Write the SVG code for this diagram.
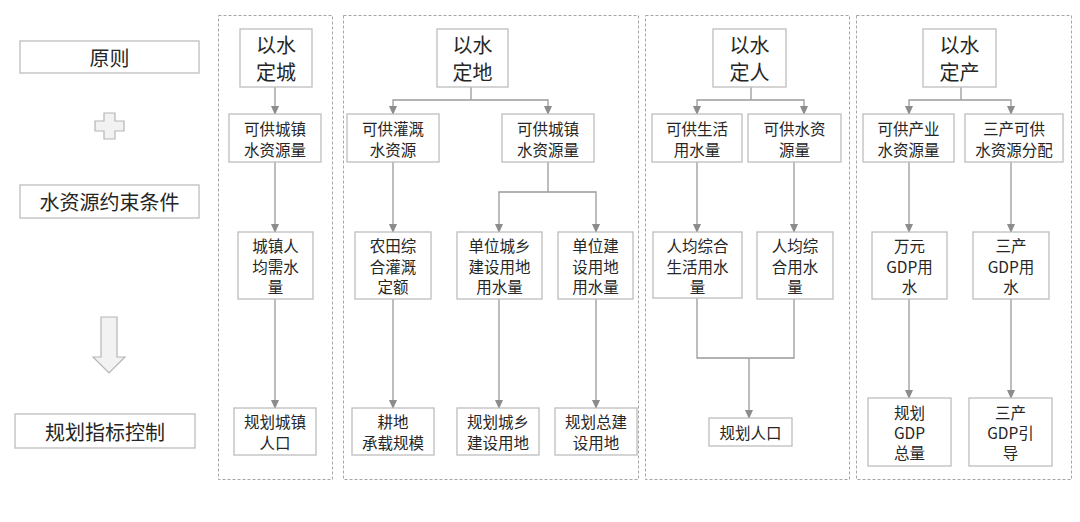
<svg xmlns="http://www.w3.org/2000/svg" width="1080" height="522" viewBox="0 0 1080 522">
<defs>
<style>
text{font-family:"Microsoft YaHei","Noto Sans CJK SC","Noto Sans",sans-serif;fill:#262626;text-anchor:middle;dominant-baseline:central}
.box{fill:#fff;stroke:#bdbdbd;stroke-width:1.3}
.grp{fill:none;stroke:#a6a6a6;stroke-width:1;stroke-dasharray:3 2}
.t{font-size:20px}
.n{font-size:15.5px}
.l{font-size:20px}
.c{fill:none;stroke:#9a9a9a;stroke-width:1.3}
.a{marker-end:url(#ah)}
.icon{fill:#f2f2f2;stroke:#b5b5b5;stroke-width:1.2}
</style>
<marker id="ah" markerUnits="userSpaceOnUse" markerWidth="9" markerHeight="8" refX="8" refY="4" orient="auto">
<path d="M0,0 L9,4 L0,8 Z" fill="#8c8c8c"/>
</marker>
</defs>
<rect width="1080" height="522" fill="#fff"/>

<g id="legend">
<g id="principle"><rect class="box" x="20" y="41" width="179" height="32"/><text class="l" x="109.5" y="57">原则</text></g>
<path id="plus" class="icon" d="M104,113 H115 V121 H124 V131 H115 V139 H104 V131 H95 V121 H104 Z"/>
<g id="constraint"><rect class="box" x="20" y="185" width="179" height="33"/><text class="l" x="109.5" y="201.5">水资源约束条件</text></g>
<path id="downarrow" class="icon" d="M101,317 H117 V357 H125 L109,373 L93,357 H101 Z"/>
<g id="control"><rect class="box" x="15" y="414" width="180" height="34"/><text class="l" x="105" y="431">规划指标控制</text></g>
</g>

<g id="groups">
<rect class="grp" x="218.5" y="15.5" width="114" height="464"/>
<rect class="grp" x="343.5" y="15.5" width="295" height="464"/>
<rect class="grp" x="645.5" y="15.5" width="204" height="464"/>
<rect class="grp" x="856.5" y="15.5" width="215" height="464"/>
</g>

<g id="connectors">
<line class="c a" x1="275" y1="87" x2="275" y2="114"/>
<line class="c a" x1="275" y1="162" x2="275" y2="232"/>
<line class="c a" x1="275" y1="299" x2="275" y2="408"/>

<polyline class="c" points="471,87 471,100"/>
<polyline class="c a" points="471,100 393,100 393,114"/>
<polyline class="c a" points="471,100 548,100 548,114"/>
<line class="c a" x1="393" y1="162" x2="393" y2="232"/>
<polyline class="c" points="548,162 548,192"/>
<polyline class="c a" points="548,192 499,192 499,232"/>
<polyline class="c a" points="548,192 596,192 596,232"/>
<line class="c a" x1="393" y1="299" x2="393" y2="408"/>
<line class="c a" x1="499" y1="299" x2="499" y2="408"/>
<line class="c a" x1="596" y1="299" x2="596" y2="408"/>

<polyline class="c" points="751,87 751,100"/>
<polyline class="c a" points="751,100 697,100 697,114"/>
<polyline class="c a" points="751,100 804,100 804,114"/>
<line class="c a" x1="697" y1="162" x2="697" y2="232"/>
<line class="c a" x1="794" y1="162" x2="794" y2="232"/>
<polyline class="c" points="697,298 697,358 794,358 794,299"/>
<line class="c a" x1="749" y1="358" x2="749" y2="418"/>

<polyline class="c" points="961,87 961,100"/>
<polyline class="c a" points="961,100 909,100 909,114"/>
<polyline class="c a" points="961,100 1011,100 1011,114"/>
<line class="c a" x1="909" y1="162" x2="909" y2="232"/>
<line class="c a" x1="1011" y1="162" x2="1011" y2="232"/>
<line class="c a" x1="909" y1="299" x2="909" y2="398"/>
<line class="c a" x1="1011" y1="299" x2="1011" y2="398"/>
</g>

<g id="n-city"><rect class="box" x="240" y="29" width="72" height="58"/><text class="t" x="276" y="44.5">以水</text><text class="t" x="276" y="71.5">定城</text></g>
<g id="n-city-supply"><rect class="box" x="229" y="114" width="92" height="48"/><text class="n" x="275" y="128">可供城镇</text><text class="n" x="275" y="149">水资源量</text></g>
<g id="n-city-percap"><rect class="box" x="238" y="232" width="75" height="67"/><text class="n" x="275.5" y="245">城镇人</text><text class="n" x="275.5" y="265.5">均需水</text><text class="n" x="275.5" y="286">量</text></g>
<g id="n-city-pop"><rect class="box" x="234" y="408" width="82" height="47"/><text class="n" x="275" y="421">规划城镇</text><text class="n" x="275" y="442">人口</text></g>

<g id="n-land"><rect class="box" x="437" y="29" width="71" height="58"/><text class="t" x="472.5" y="44.5">以水</text><text class="t" x="472.5" y="71.5">定地</text></g>
<g id="n-irr-supply"><rect class="box" x="347" y="114" width="92" height="48"/><text class="n" x="393" y="128">可供灌溉</text><text class="n" x="393" y="149">水资源</text></g>
<g id="n-land-city-supply"><rect class="box" x="502" y="114" width="92" height="48"/><text class="n" x="548" y="128">可供城镇</text><text class="n" x="548" y="149">水资源量</text></g>
<g id="n-irr-quota"><rect class="box" x="355" y="232" width="76" height="67"/><text class="n" x="393" y="245">农田综</text><text class="n" x="393" y="265.5">合灌溉</text><text class="n" x="393" y="286">定额</text></g>
<g id="n-urb-rural-use"><rect class="box" x="457" y="232" width="85" height="67"/><text class="n" x="499.5" y="245">单位城乡</text><text class="n" x="499.5" y="265.5">建设用地</text><text class="n" x="499.5" y="286">用水量</text></g>
<g id="n-constr-use"><rect class="box" x="558" y="232" width="75" height="67"/><text class="n" x="595.5" y="245">单位建</text><text class="n" x="595.5" y="265.5">设用地</text><text class="n" x="595.5" y="286">用水量</text></g>
<g id="n-farmland"><rect class="box" x="352" y="408" width="82" height="47"/><text class="n" x="393" y="421">耕地</text><text class="n" x="393" y="442">承载规模</text></g>
<g id="n-urb-rural-land"><rect class="box" x="457" y="408" width="82" height="47"/><text class="n" x="498" y="421">规划城乡</text><text class="n" x="498" y="442">建设用地</text></g>
<g id="n-total-land"><rect class="box" x="555" y="408" width="82" height="47"/><text class="n" x="596" y="421">规划总建</text><text class="n" x="596" y="442">设用地</text></g>

<g id="n-people"><rect class="box" x="713" y="29" width="73" height="58"/><text class="t" x="749.5" y="44.5">以水</text><text class="t" x="749.5" y="71.5">定人</text></g>
<g id="n-domestic-supply"><rect class="box" x="652" y="114" width="90" height="48"/><text class="n" x="697" y="128">可供生活</text><text class="n" x="697" y="149">用水量</text></g>
<g id="n-water-supply"><rect class="box" x="748" y="114" width="93" height="48"/><text class="n" x="794.5" y="128">可供水资</text><text class="n" x="794.5" y="149">源量</text></g>
<g id="n-domestic-percap"><rect class="box" x="653" y="232" width="89" height="66"/><text class="n" x="697.5" y="245">人均综合</text><text class="n" x="697.5" y="265.5">生活用水</text><text class="n" x="697.5" y="286">量</text></g>
<g id="n-total-percap"><rect class="box" x="757" y="232" width="76" height="67"/><text class="n" x="795" y="245">人均综</text><text class="n" x="795" y="265.5">合用水</text><text class="n" x="795" y="286">量</text></g>
<g id="n-pop"><rect class="box" x="709" y="418" width="83" height="28"/><text class="n" x="750.5" y="432">规划人口</text></g>

<g id="n-industry"><rect class="box" x="923" y="29" width="73" height="58"/><text class="t" x="959.5" y="44.5">以水</text><text class="t" x="959.5" y="71.5">定产</text></g>
<g id="n-ind-supply"><rect class="box" x="863" y="114" width="91" height="48"/><text class="n" x="908.5" y="128">可供产业</text><text class="n" x="908.5" y="149">水资源量</text></g>
<g id="n-tertiary-alloc"><rect class="box" x="965" y="114" width="98" height="48"/><text class="n" x="1014" y="128">三产可供</text><text class="n" x="1014" y="149">水资源分配</text></g>
<g id="n-gdp-use"><rect class="box" x="872" y="232" width="75" height="67"/><text class="n" x="909.5" y="245">万元</text><text class="n" x="909.5" y="265.5">GDP用</text><text class="n" x="909.5" y="286">水</text></g>
<g id="n-tert-gdp-use"><rect class="box" x="973" y="232" width="76" height="67"/><text class="n" x="1011" y="245">三产</text><text class="n" x="1011" y="265.5">GDP用</text><text class="n" x="1011" y="286">水</text></g>
<g id="n-gdp-total"><rect class="box" x="868" y="398" width="83" height="68"/><text class="n" x="909.5" y="412">规划</text><text class="n" x="909.5" y="432">GDP</text><text class="n" x="909.5" y="452">总量</text></g>
<g id="n-tert-gdp-guide"><rect class="box" x="969" y="398" width="83" height="68"/><text class="n" x="1010.5" y="412">三产</text><text class="n" x="1010.5" y="432">GDP引</text><text class="n" x="1010.5" y="452">导</text></g>
</svg>
